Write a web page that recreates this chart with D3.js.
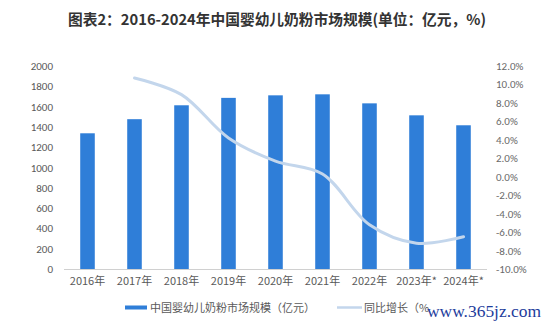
<!DOCTYPE html>
<html>
<head>
<meta charset="utf-8">
<script src="https://cdn.jsdelivr.net/npm/d3@7"></script>
<style>
  html, body { margin: 0; padding: 0; background: #fff; }
  svg { display: block; }
</style>
</head>
<body>
<svg id="chart" width="550" height="326"></svg>
<script>
const categories = ["2016年","2017年","2018年","2019年","2020年","2021年","2022年","2023年*","2024年*"];
const marketSize = [1337, 1476, 1613, 1686, 1711, 1721, 1632, 1514, 1416];
const growthYears = ["2017年","2018年","2019年","2020年","2021年","2022年","2023年*","2024年*"];
const growthRate = [10.7, 8.9, 4.2, 1.7, 0.3, -5.2, -7.2, -6.5];
const leftTicks = [0, 200, 400, 600, 800, 1000, 1200, 1400, 1600, 1800, 2000];
const rightTicks = [-10, -8, -6, -4, -2, 0, 2, 4, 6, 8, 10, 12];
const titleText = "图表2：2016-2024年中国婴幼儿奶粉市场规模(单位：亿元，%)";
const legendBar = "中国婴幼儿奶粉市场规模（亿元）";
const legendLine = "同比增长（%";
const watermark = "www.365jz.com";

(function () {
const svg = d3.select("#chart");
const cjk = "'Noto Sans CJK SC', 'Noto Sans', sans-serif";
const latin = "Calibri, Carlito, 'Liberation Sans', 'Noto Sans', sans-serif";

const pLeft = 64, pRight = 487, pTop = 66, pBottom = 269;

const x = d3.scaleBand().domain(categories).range([pLeft, pRight]).paddingInner(0.69).paddingOuter(0.345);
const yL = d3.scaleLinear().domain([0, 2000]).range([pBottom, pTop]);
const yR = d3.scaleLinear().domain([-10, 12]).range([pBottom, pTop]);

// title
svg.append("text")
  .attr("x", 277).attr("y", 25)
  .attr("text-anchor", "middle")
  .attr("font-family", cjk)
  .attr("font-weight", "bold")
  .attr("font-size", 15)
  .attr("fill", "#333")
  .attr("textLength", 418)
  .attr("lengthAdjust", "spacingAndGlyphs")
  .text(titleText);

// bars
svg.append("g").selectAll("rect")
  .data(categories.map((c, i) => ({c, v: marketSize[i]})))
  .join("rect")
  .attr("x", d => x(d.c))
  .attr("width", x.bandwidth())
  .attr("y", d => yL(d.v))
  .attr("height", d => yL(0) - yL(d.v))
  .attr("fill", "#2f7ed8");

// baseline
svg.append("line")
  .attr("x1", pLeft).attr("x2", pRight)
  .attr("y1", pBottom + 0.5).attr("y2", pBottom + 0.5)
  .attr("stroke", "#d0d0d0").attr("stroke-width", 1);

// left axis
const axL = d3.axisLeft(yL).tickValues(leftTicks).tickSize(0).tickPadding(0).tickFormat(d3.format("d"));
const gL = svg.append("g").attr("transform", `translate(53,0)`).call(axL);
gL.select(".domain").remove();
gL.selectAll("text").attr("font-family", latin).attr("font-size", 11).attr("fill", "#595959");

// right axis
const axR = d3.axisRight(yR).tickValues(rightTicks).tickSize(0).tickPadding(0).tickFormat(d => d.toFixed(1) + "%");
const gR = svg.append("g").attr("transform", `translate(496,0)`).call(axR);
gR.select(".domain").remove();
gR.selectAll("text").attr("font-family", latin).attr("font-size", 11).attr("fill", "#6a6a6a");

// x axis
const axX = d3.axisBottom(x).tickSize(0).tickPadding(8);
const gX = svg.append("g").attr("transform", `translate(0,${pBottom})`).call(axX);
gX.select(".domain").remove();
gX.selectAll("text").attr("font-family", cjk).attr("font-size", 11).attr("fill", "#595959");

// line
const line = d3.line()
  .x((d, i) => x(growthYears[i]) + x.bandwidth() / 2)
  .y(d => yR(d))
  .curve(d3.curveCatmullRom.alpha(0.5));
svg.append("path")
  .datum(growthRate)
  .attr("d", line)
  .attr("fill", "none")
  .attr("stroke", "#c3d6ec")
  .attr("stroke-width", 3)
  .attr("stroke-linecap", "round");

// legend
const lg = svg.append("g");
lg.append("rect").attr("x", 125).attr("y", 305.5).attr("width", 22).attr("height", 4).attr("fill", "#2f7ed8");
lg.append("text").attr("x", 150).attr("y", 312).attr("font-family", cjk).attr("font-size", 11).attr("fill", "#595959").text(legendBar);
lg.append("line").attr("x1", 337).attr("x2", 362).attr("y1", 307.5).attr("y2", 307.5).attr("stroke", "#c3d6ec").attr("stroke-width", 2.5);
lg.append("text").attr("x", 364).attr("y", 312).attr("font-family", cjk).attr("font-size", 11).attr("fill", "#595959").text(legendLine);

// watermark text
svg.append("text")
  .attr("x", 427).attr("y", 317)
  .attr("font-family", "'Liberation Serif', 'DejaVu Serif', serif")
  .attr("font-size", 17)
  .attr("fill", "#1d3c9c")
  .attr("textLength", 114)
  .attr("lengthAdjust", "spacingAndGlyphs")
  .text(watermark);
})();
</script>
</body>
</html>
